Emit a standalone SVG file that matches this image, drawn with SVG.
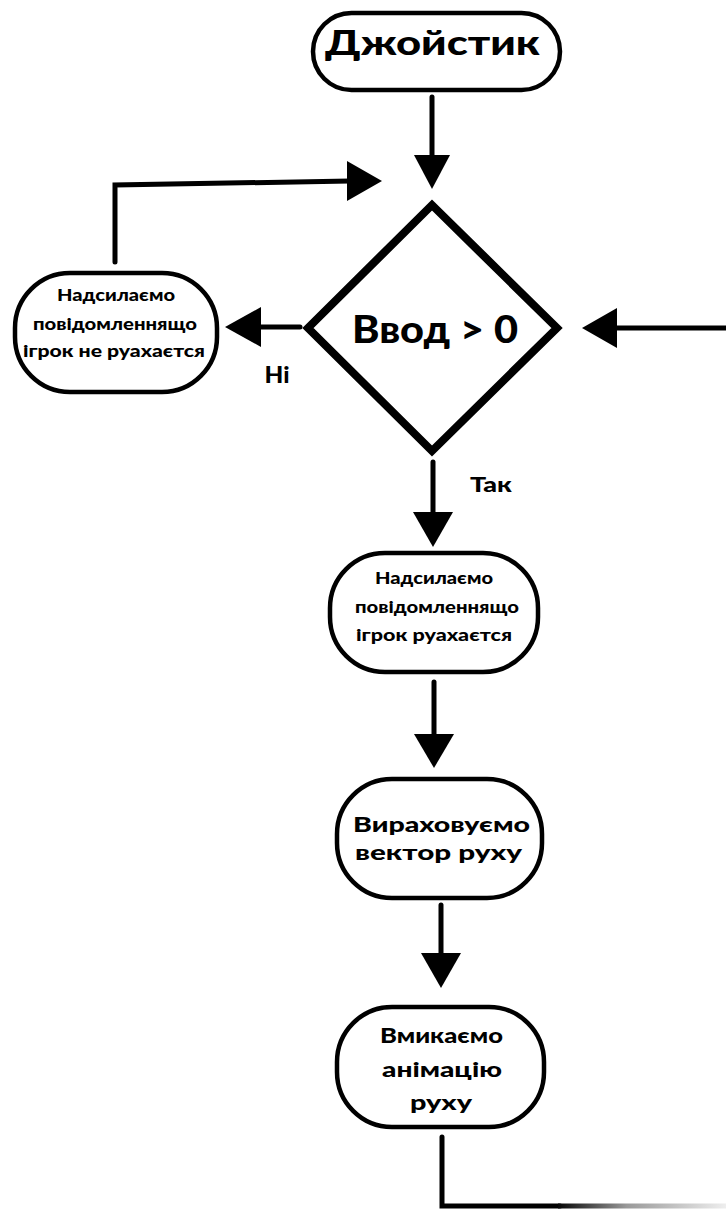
<svg xmlns="http://www.w3.org/2000/svg" width="726" height="1209" viewBox="0 0 726 1209">
  <style>
    .pill { fill: #fff; stroke: #000; stroke-width: 4.5; }
    .dia { fill: #fff; stroke: #000; stroke-width: 8; stroke-linejoin: miter; }
    .t { font-family: "Lato", "Liberation Sans", sans-serif; font-weight: 900; fill: #000; text-anchor: middle; }
    .ln { fill: none; stroke: #000; stroke-width: 5; stroke-linecap: round; stroke-linejoin: miter; }
    .hd { fill: #000; stroke: none; }
  </style>
  <defs>
    <linearGradient id="fade" gradientUnits="userSpaceOnUse" x1="442" y1="0" x2="726" y2="0">
      <stop offset="0" stop-color="#000"/>
      <stop offset="0.4" stop-color="#000"/>
      <stop offset="0.65" stop-color="#999"/>
      <stop offset="1" stop-color="#eee"/>
    </linearGradient>
  </defs>
  <rect width="726" height="1209" fill="#fff"/>

  <g id="connectors">
    <line class="ln" x1="432" y1="97" x2="432" y2="158"/>
    <polygon class="hd" points="414,155 450,155 432,189"/>

    <polyline class="ln" points="115,262 115,185 350,181"/>
    <polygon class="hd" points="347,161 347,201 382,181"/>

    <line class="ln" x1="300" y1="327" x2="258" y2="327"/>
    <polygon class="hd" points="261,307 261,347 225,327"/>

    <line class="ln" x1="726" y1="328" x2="614" y2="328"/>
    <polygon class="hd" points="617,308 617,348 582,328"/>

    <line class="ln" x1="433" y1="462" x2="433" y2="515"/>
    <polygon class="hd" points="413,512 453,512 433,547"/>

    <line class="ln" x1="434" y1="682" x2="434" y2="737"/>
    <polygon class="hd" points="414,734 454,734 434,768"/>

    <line class="ln" x1="441" y1="905" x2="441" y2="956"/>
    <polygon class="hd" points="421,953 461,953 441,988"/>

    <polyline class="ln" points="442,1137 442,1206 560,1206" stroke-linecap="butt"/>
    <line x1="558" y1="1206" x2="726" y2="1206" stroke="url(#fade)" stroke-width="5"/>

    <text class="t" x="277" y="383" font-size="22" textLength="25" lengthAdjust="spacingAndGlyphs">Ні</text>
    <text class="t" x="491" y="492" font-size="21" textLength="42" lengthAdjust="spacingAndGlyphs">Так</text>
  </g>

  <g id="start">
    <rect class="pill" x="313" y="13" width="247" height="77" rx="38.5"/>
    <text class="t" x="432.5" y="55" font-size="34" textLength="215" lengthAdjust="spacingAndGlyphs">Джойстик</text>
  </g>

  <g id="decision">
    <polygon class="dia" points="432,205 557,328 432,451 308,328"/>
    <text class="t" x="435" y="343" font-size="37" textLength="166" lengthAdjust="spacingAndGlyphs">Ввод &gt; 0</text>
  </g>

  <g id="not-moving">
    <rect class="pill" x="15" y="273" width="202" height="119" rx="55"/>
    <text class="t" x="116" y="301" font-size="16" textLength="118" lengthAdjust="spacingAndGlyphs">Надсилаємо</text>
    <text class="t" x="115" y="330" font-size="16" textLength="164" lengthAdjust="spacingAndGlyphs">повідомленнящо</text>
    <text class="t" x="114" y="357" font-size="16" textLength="182" lengthAdjust="spacingAndGlyphs">ігрок не руахаєтся</text>
  </g>

  <g id="moving">
    <rect class="pill" x="330" y="553" width="208" height="119" rx="55"/>
    <text class="t" x="434" y="584" font-size="16" textLength="118" lengthAdjust="spacingAndGlyphs">Надсилаємо</text>
    <text class="t" x="437" y="613" font-size="16" textLength="164" lengthAdjust="spacingAndGlyphs">повідомленнящо</text>
    <text class="t" x="434" y="641" font-size="16" textLength="156" lengthAdjust="spacingAndGlyphs">ігрок руахаєтся</text>
  </g>

  <g id="calc-vector">
    <rect class="pill" x="337" y="779" width="205" height="119" rx="55"/>
    <text class="t" x="441.5" y="832" font-size="20" textLength="177" lengthAdjust="spacingAndGlyphs">Вираховуємо</text>
    <text class="t" x="438.5" y="860" font-size="20" textLength="167" lengthAdjust="spacingAndGlyphs">вектор руху</text>
  </g>

  <g id="animation">
    <rect class="pill" x="337" y="1007" width="207" height="120" rx="55"/>
    <text class="t" x="441.5" y="1043" font-size="21" textLength="123" lengthAdjust="spacingAndGlyphs">Вмикаємо</text>
    <text class="t" x="442" y="1077" font-size="21" textLength="120" lengthAdjust="spacingAndGlyphs">анімацію</text>
    <text class="t" x="441" y="1110" font-size="21" textLength="62" lengthAdjust="spacingAndGlyphs">руху</text>
  </g>
</svg>
